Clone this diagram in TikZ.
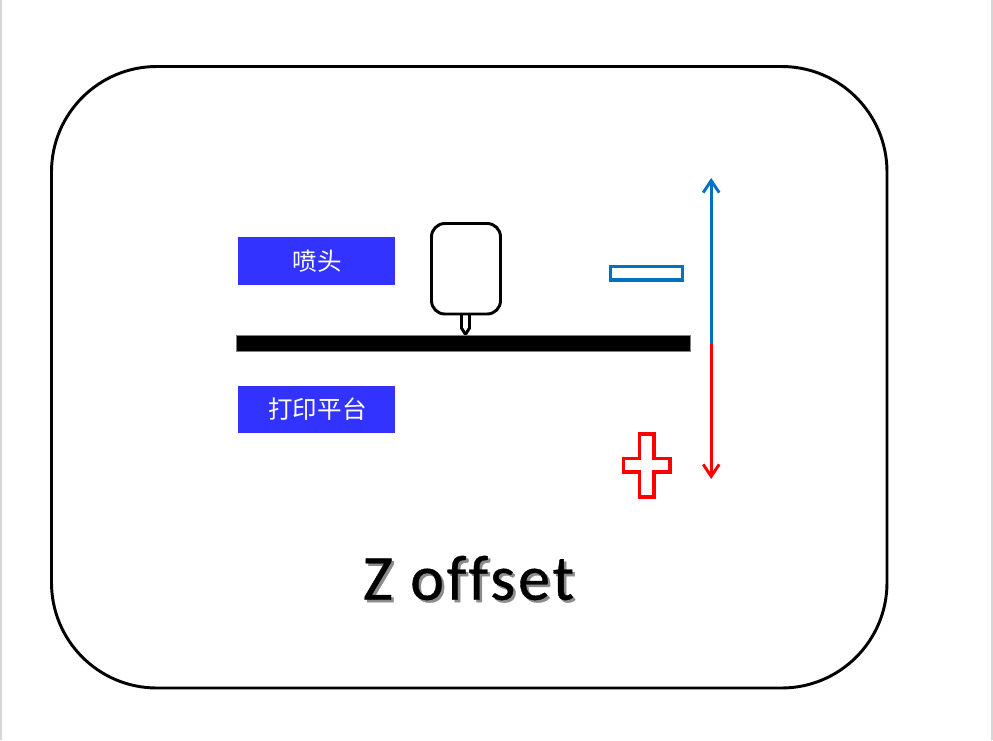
\documentclass[tikz,border=0pt]{standalone}
\usepackage{fontspec}
\setmainfont{Carlito}
\newfontfamily\cjkfont{Noto Sans CJK SC}
\newfontfamily\titlefont{Carlito}[LetterSpace=4.5,Ligatures=NoCommon,FakeBold=0.6]
\usetikzlibrary{arrows.meta}
\definecolor{labelblue}{HTML}{3333FF}
\definecolor{minusblue}{HTML}{0070C0}
\definecolor{plusred}{HTML}{FF0000}
\tikzset{
  px/.style={x=0.75pt,y=-0.75pt},
  outline/.style={draw=black,line width=2.2pt,fill=none},
  tag/.style={fill=labelblue,text=white,minimum width=117.75pt,minimum height=35.5pt,inner sep=0pt,font=\cjkfont\fontsize{18.4}{20}\selectfont},
  headline/.style={inner sep=0pt,font=\titlefont\fontsize{48}{50}\selectfont},
  axisline/.style={line width=2.2pt,-{Straight Barb[length=9pt,width=12pt,line width=2.2pt]}}
}
\begin{document}
\begin{tikzpicture}[px]
\useasboundingbox (0,0) rectangle (993,740);
\draw[black!16,line width=0.9pt] (1,0) -- (1,740) (992,0) -- (992,740);
% outer rounded frame
\draw[outline,rounded corners=79pt] (51.5,66.5) rectangle (887,688);
% printer head and nozzle
\draw[outline,rounded corners=10pt] (431.5,223.5) rectangle (500.5,314);
\draw[outline,line join=round] (461.5,314) -- (461.5,328) -- (465.5,334.5) -- (469.5,328) -- (469.5,314);
% platform
\node[fill=black,draw=black!50,line width=0.4pt,minimum width=340.5pt,minimum height=12pt,inner sep=0pt] (platform) at (463.2,343.5) {};
% labels
\node[tag] (head) at (316.5,261) {\hspace{1pt}喷头};
\node[tag] (bed) at (316.5,409.5) {\hspace{1.5pt}打印平台};
% minus and plus
\draw[minusblue,line width=2.4pt] (610.5,266.5) rectangle (682.5,280);
\draw[plusred,line width=2.4pt] (639.5,434) -- (654,434) -- (654,458.5) -- (670,458.5) -- (670,472) -- (654,472) -- (654,497) -- (639.5,497) -- (639.5,472) -- (623.5,472) -- (623.5,458.5) -- (639.5,458.5) -- cycle;
% axis
\coordinate (mid) at (711.2,344);
\coordinate (up) at (711.2,178);
\coordinate (down) at (711.2,479);
\draw[axisline,minusblue] (mid) -- (up);
\draw[axisline,plusred] (mid) -- (down);
% title with shadow
\node[headline,text=black!45] (shadow) at (471,580.5) {Z offset};
\node[headline,text=black] (title) at (468.5,578) {Z offset};
\end{tikzpicture}
\end{document}
